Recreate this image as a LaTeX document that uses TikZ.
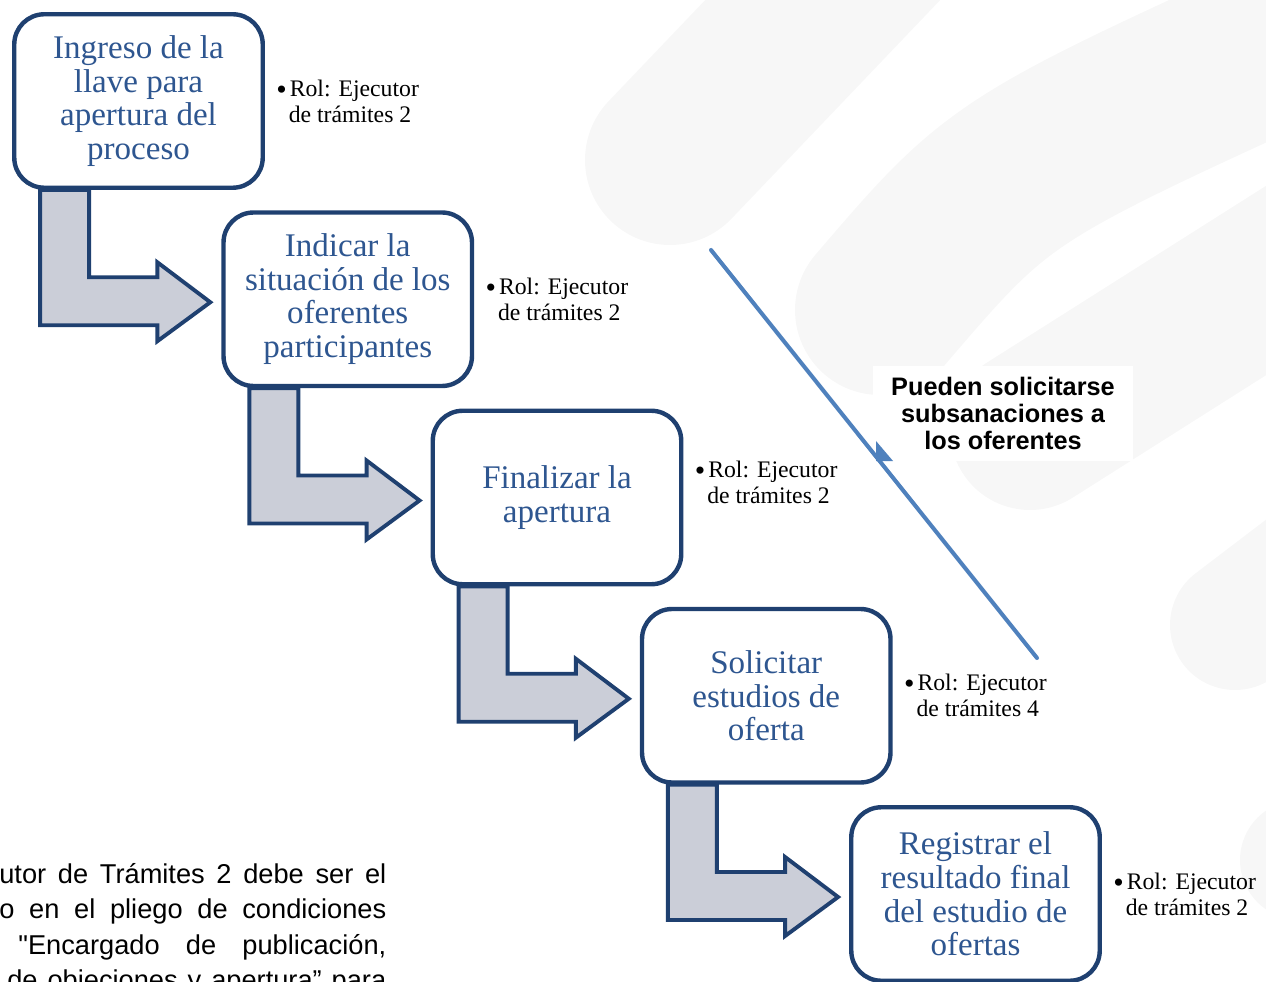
\documentclass[tikz,border=0pt]{standalone}
\usepackage{fontspec}
\setmainfont{Liberation Serif}
\newfontfamily\arialfont{Liberation Sans}
\usetikzlibrary{calc,backgrounds}

\definecolor{boxnavy}{HTML}{1F4070}
\definecolor{boxtext}{HTML}{2E5690}
\definecolor{arrowgray}{HTML}{CBCED8}
\definecolor{lineblue}{HTML}{4F81BD}
\definecolor{wmgray}{HTML}{F7F7F7}

\newcommand{\rolbullet}{\makebox[0.27cm][l]{\raisebox{-1.6pt}{\fontsize{17}{0}\selectfont\textbullet}}}

\begin{document}
\begin{tikzpicture}[x=0.02cm, y=-0.02cm,
        stepbox/.style={draw=boxnavy, line width=2.5pt, fill=white, rounded corners=0.6cm,
            minimum width=4.97cm, minimum height=3.47cm, inner sep=0pt, align=center,
            text=boxtext, font=\fontsize{18.8}{19.1}\selectfont},
        rolnote/.style={anchor=west, inner sep=0pt, align=left, font=\fontsize{13.5}{14.7}\selectfont},
        bentarrow/.style={draw=boxnavy, line width=2.2pt, fill=arrowgray, line join=miter},
        wmark/.style={wmgray, line cap=round},
        notetext/.style={anchor=base west, inner sep=0pt, font=\arialfont\fontsize{15.5}{19.8}\selectfont}]
                \newcommand{\boxdx}{209.25}
                \newcommand{\boxdy}{198.25}

                \useasboundingbox (0,0) rectangle (1266,982);
                \clip (0,0) rectangle (1266,982);

                % Draw step boxes
                \foreach \i/\txt in {0/{Ingreso de la\\llave para\\apertura del\\proceso},
                                     1/{Indicar la\\situación de los\\oferentes\\participantes},
                                     2/{Finalizar la\\apertura},
                                     3/{Solicitar\\estudios de\\oferta},
                                     4/{Registrar el\\resultado final\\del estudio de\\ofertas}} {
                    \node[stepbox] (box\i) at (138.5+\i*\boxdx, 101+\i*\boxdy) {\txt};
                }

                % Draw roles
                \foreach \i/\num/\dy in {0/2/0, 1/2/0, 2/2/-15, 3/4/0, 4/2/0} {
                    \node[rolnote] (rol\i) at ($(box\i.east)+(11,\dy)$)
                        {\rolbullet Rol: Ejecutor\\\hspace*{0.25cm}de trámites \num};
                }

                % Draw note on subsanaciones
                \node[fill=white, minimum width=5.2cm, minimum height=1.9cm, inner sep=0pt, align=center,
                      font=\arialfont\bfseries\fontsize{14.4}{15.6}\selectfont] (subsan) at (1003,413.5)
                      {Pueden solicitarse\\subsanaciones a\\los oferentes};
                \coordinate (diagtop) at (711,250);
                \coordinate (diagbot) at (1037,658);
                \draw[lineblue, line width=2.3pt, line cap=round] (diagtop) -- (diagbot);
                \fill[lineblue] (876,441) -- (893,461) -- (876,461) -- cycle;

                % Draw text below, cut by the page
                \node[notetext] (note1) at (-1,883) {\makebox[7.74cm][s]{utor de Trámites 2 debe ser el}};
                \node[notetext] (note2) at (-1,918) {\makebox[7.74cm][s]{o en el pliego de condiciones}};
                \node[notetext] (note3) at (18,954) {\makebox[7.36cm][s]{"Encargado de publicación,}};
                \node[notetext] (note4) at (7,989) {\makebox[7.58cm][s]{de objeciones y apertura” para}};

                \begin{pgfonlayer}{background}
                    % Draw watermark
                    \draw[wmark, line width=3.4cm] (670,160) -- (880,-60);
                    \draw[wmark, line width=3.4cm] (880,310) .. controls (1000,170) .. (1330,20);
                    \draw[wmark, line width=3.2cm] (1030,430) -- (1330,240);
                    \draw[wmark, line width=2.6cm] (1235,625) -- (1340,545);
                    \fill[wmgray] (1300,860) circle (60);

                    % Draw bent arrows
                    \foreach \i in {0,...,3} {
                        \pgfmathtruncatemacro{\j}{\i+1}
                        \draw[bentarrow] ($(box\i.south west)+(28,0)$) |- ($(box\j.west)+(-64,26)$)
                            -- ++(0,16) -- ($(box\j.west)+(-11,3)$) -- ($(box\j.west)+(-64,-37)$)
                            -- ++(0,15) -| ($(box\i.south west)+(77,0)$) -- cycle;
                    }
                \end{pgfonlayer}
            \end{tikzpicture}
\end{document}
